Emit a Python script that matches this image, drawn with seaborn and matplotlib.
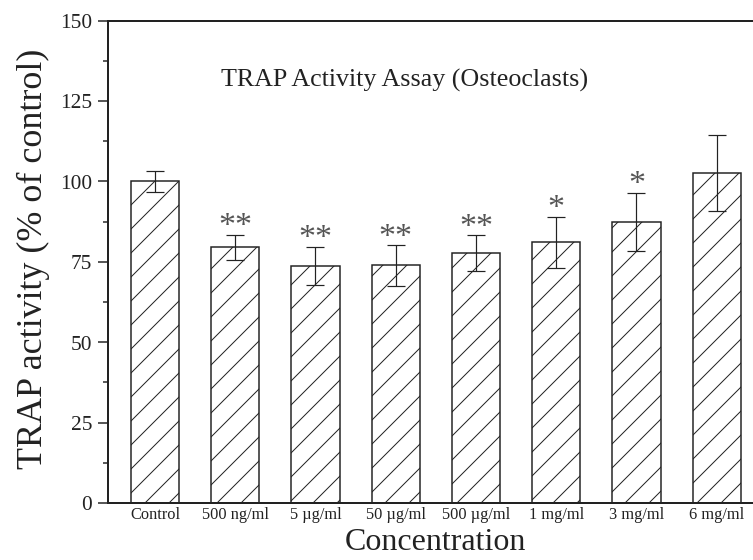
import pandas as pd
import matplotlib
matplotlib.use("Agg")
import matplotlib.pyplot as plt
import seaborn as sns
from matplotlib.ticker import MultipleLocator

# values
concentrations = ["Control", "500 ng/ml", "5 µg/ml", "50 µg/ml",
                  "500 µg/ml", "1 mg/ml", "3 mg/ml", "6 mg/ml"]
activity = [100.0, 79.5, 73.7, 73.9, 77.7, 81.1, 87.4, 102.6]
sd = [3.3, 3.9, 5.9, 6.3, 5.6, 7.9, 9.0, 11.8]
stars = ["", "**", "**", "**", "**", "*", "*", ""]

df = pd.DataFrame({"conc": concentrations, "activity": activity, "sd": sd})

sns.set_style("ticks")
plt.rcParams["font.family"] = ["Liberation Serif", "DejaVu Serif"]
plt.rcParams["hatch.linewidth"] = 0.5

DPI = 144
fig = plt.figure(figsize=(753 / DPI, 560.5 / DPI), dpi=DPI)
# right spine is cut off in the reference, so the axes run past the edge
ax = fig.add_axes([108 / 753, 57 / 560, 655.7 / 753, 482 / 560])

sns.barplot(data=df, x="conc", y="activity", color="white", width=0.6,
            edgecolor="#222222", linewidth=0.75, errorbar=None, ax=ax,
            saturation=1)
for p in ax.patches:
    p.set_hatch("//")

ax.errorbar(range(len(df)), df["activity"], yerr=df["sd"], fmt="none",
            ecolor="#222222", elinewidth=0.6, capsize=4.6, capthick=0.6,
            zorder=5)

for i, s in enumerate(stars):
    if s:
        ax.annotate(s, (i, activity[i] + sd[i]), xytext=(0, 0),
                    textcoords="offset points", ha="center", va="baseline",
                    fontsize=17, color="#555555")

ax.text(0.172, 0.8637, "TRAP Activity Assay (Osteoclasts)",
        transform=ax.transAxes, ha="left", va="baseline", fontsize=13,
        color="#222222")

ax.set_xlim(-0.586, 7.586)
ax.set_ylim(0, 150)
ax.yaxis.set_major_locator(MultipleLocator(25))
ax.yaxis.set_minor_locator(MultipleLocator(12.5))
ax.tick_params(axis="y", which="major", direction="out", length=5, width=0.75,
               labelsize=10.7, pad=3, colors="#222222")
ax.tick_params(axis="y", which="minor", direction="out", length=2.5, width=0.75)
ax.tick_params(axis="x", length=0, labelsize=8.2, pad=2, colors="#222222")

ax.set_xlabel("Concentration", fontsize=16, color="#222222")
ax.set_ylabel("TRAP activity (% of control)", fontsize=18, color="#222222")
ax.xaxis.set_label_coords(0.5, -0.05)
ax.yaxis.set_label_coords(-0.089, 0.508)

for side in ["left", "bottom", "top", "right"]:
    ax.spines[side].set_visible(True)
    ax.spines[side].set_linewidth(1.0)
    ax.spines[side].set_color("#222222")

fig.savefig("out.png", dpi=DPI)
